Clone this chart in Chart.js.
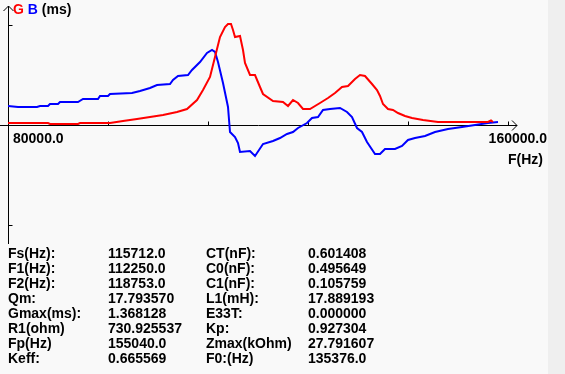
<!DOCTYPE html>
<html>
<head>
<meta charset="utf-8">
<script src="https://cdn.jsdelivr.net/npm/chart.js@4/dist/chart.umd.min.js"></script>
<style>
  html, body { margin: 0; padding: 0; }
  body { width: 565px; height: 374px; background: #f9f9f9; position: relative; overflow: hidden; font-family: "Liberation Sans", Arial, sans-serif; }
  #strip { position: absolute; left: 548px; top: 0; width: 17px; height: 374px; background: #efefef; }
  #chart { position: absolute; left: 0; top: 0; }
  .col { position: absolute; top: 246px; font-weight: bold; font-size: 14px; line-height: 15px; color: #000; white-space: pre; }
</style>
</head>
<body>
<div id="strip"></div>
<canvas id="chart" width="565" height="374"></canvas>
<div class="col" id="c1" style="left:8px"></div>
<div class="col" id="c2" style="left:108px"></div>
<div class="col" id="c3" style="left:206px"></div>
<div class="col" id="c4" style="left:308px"></div>
<script>
// frequency axis (Hz) and tick values
const freqMin = 80000;
const freqMax = 160000;
const freqTicks = [96000, 112000, 128000, 144000, 160000];
const yTicks = [-1, 1];

// G curve (red)
const gFreq = [80000, 86400, 86720, 91200, 91520, 96320, 98400, 100640, 102720, 104800, 107040, 108640,
  110240, 111200, 112320, 113120, 113920, 114720, 115200, 115680, 116000, 116320, 117120, 117600, 117920,
  118720, 119520, 120320, 120800, 122400, 124000, 124800, 125600, 126400, 127200, 128320, 129920, 131200,
  132320, 133440, 134400, 135520, 136320, 137120, 138240, 139040, 139520, 140000, 140800, 141600, 142400,
  143520, 144640, 146400, 148800, 152640, 156800, 157280, 157600];
const gVals = [0.02, 0.02, 0.01, 0.01, 0.02, 0.02, 0.04, 0.06, 0.08, 0.10, 0.13, 0.16,
  0.25, 0.35, 0.48, 0.68, 0.88, 0.98, 1.01, 1.01, 0.95, 0.88, 0.89, 0.75, 0.62,
  0.50, 0.50, 0.38, 0.31, 0.24, 0.23, 0.19, 0.25, 0.22, 0.16, 0.16, 0.22, 0.27,
  0.32, 0.38, 0.39, 0.46, 0.50, 0.49, 0.41, 0.35, 0.29, 0.21, 0.16, 0.15, 0.12,
  0.09, 0.07, 0.05, 0.03, 0.03, 0.03, 0.045, 0.03];

// B curve (blue)
const bFreq = [80000, 81600, 84640, 85120, 86400, 86720, 88000, 88320, 91200, 92000, 94400, 94720,
  96000, 96320, 99840, 101120, 102720, 103840, 105920, 106400, 107200, 108800, 109440, 110720, 111840,
  112640, 113120, 113600, 114400, 115200, 115520, 116320, 116800, 117120, 118720, 119520, 120800, 122400,
  123520, 124640, 125600, 126400, 127840, 128640, 129600, 130400, 131520, 133120, 134240, 135040, 135840,
  136640, 137440, 138720, 139520, 140320, 141920, 143040, 144000, 145120, 146720, 148320, 150400, 152640,
  154720, 156800, 158400];
const bVals = [0.19, 0.18, 0.18, 0.19, 0.19, 0.21, 0.21, 0.23, 0.23, 0.26, 0.26, 0.29,
  0.29, 0.31, 0.32, 0.34, 0.37, 0.40, 0.41, 0.45, 0.49, 0.50, 0.55, 0.63, 0.72,
  0.75, 0.73, 0.63, 0.42, 0.18, -0.07, -0.12, -0.18, -0.27, -0.26, -0.31, -0.19, -0.16,
  -0.13, -0.09, -0.07, -0.03, 0.02, 0.07, 0.08, 0.15, 0.16, 0.17, 0.13, 0.08, -0.03,
  -0.07, -0.17, -0.29, -0.29, -0.24, -0.24, -0.21, -0.15, -0.13, -0.11, -0.07, -0.04, -0.02,
  0.00, 0.02, 0.03];

// measurement results
const leftNames = ['Fs(Hz):', 'F1(Hz):', 'F2(Hz):', 'Qm:', 'Gmax(ms):', 'R1(ohm)', 'Fp(Hz)', 'Keff:'];
const leftValues = ['115712.0', '112250.0', '118753.0', '17.793570', '1.368128', '730.925537', '155040.0', '0.665569'];
const rightNames = ['CT(nF):', 'C0(nF):', 'C1(nF):', 'L1(mH):', 'E33T:', 'Kp:', 'Zmax(kOhm)', 'F0:(Hz)'];
const rightValues = ['0.601408', '0.495649', '0.105759', '17.889193', '0.000000', '0.927304', '27.791607', '135376.0'];

document.getElementById('c1').textContent = leftNames.join('\n');
document.getElementById('c2').textContent = leftValues.join('\n');
document.getElementById('c3').textContent = rightNames.join('\n');
document.getElementById('c4').textContent = rightValues.join('\n');

const FONT = 'bold 14px "Liberation Sans", Arial, sans-serif';

const axesPlugin = {
  id: 'axes',
  beforeDatasetsDraw(chart) {
    const { ctx, scales: { x, y } } = chart;
    const x0 = Math.round(x.getPixelForValue(freqMin)) + 0.5;
    const y0 = Math.round(y.getPixelForValue(0)) + 0.5;
    ctx.save();
    ctx.strokeStyle = '#000';
    ctx.lineWidth = 1;
    ctx.beginPath();
    // horizontal axis with arrow
    ctx.moveTo(0, y0); ctx.lineTo(517, y0);
    ctx.moveTo(512, y0 - 5); ctx.lineTo(517, y0); ctx.lineTo(512, y0 + 5);
    // vertical axis with arrow
    ctx.moveTo(x0, 6); ctx.lineTo(x0, 244);
    ctx.moveTo(x0 - 5, 11); ctx.lineTo(x0, 6); ctx.lineTo(x0 + 5, 11);
    yTicks.forEach((v) => {
      const py = Math.round(y.getPixelForValue(v)) + 0.5;
      ctx.moveTo(x0, py); ctx.lineTo(x0 + 4, py);
    });
    freqTicks.forEach((f) => {
      const px = Math.round(x.getPixelForValue(f)) + 0.5;
      ctx.moveTo(px, y0); ctx.lineTo(px, y0 - 4);
    });
    ctx.stroke();

    ctx.font = FONT;
    ctx.fillStyle = '#000';
    ctx.textBaseline = 'alphabetic';
    ctx.textAlign = 'left';
    ctx.fillText(freqMin.toFixed(1), 13, 143);
    ctx.fillText('F(Hz)', 508, 164);
    ctx.textAlign = 'right';
    ctx.fillText(freqMax.toFixed(1), 547, 143);

    // title: G B (ms)
    ctx.textAlign = 'left';
    let tx = 13;
    [['G ', '#ff0000'], ['B ', '#0000ff'], ['(ms)', '#000']].forEach(([t, c]) => {
      ctx.fillStyle = c;
      ctx.fillText(t, tx, 14);
      tx += ctx.measureText(t).width;
    });
    ctx.restore();
  }
};

new Chart(document.getElementById('chart'), {
  type: 'line',
  data: {
    datasets: [
      { label: 'G', data: gFreq.map((f, i) => ({ x: f, y: gVals[i] })), borderColor: '#ff0000', borderWidth: 2, pointRadius: 0, tension: 0 },
      { label: 'B', data: bFreq.map((f, i) => ({ x: f, y: bVals[i] })), borderColor: '#0000ff', borderWidth: 2, pointRadius: 0, tension: 0 }
    ]
  },
  options: {
    responsive: false,
    animation: false,
    layout: { padding: { left: 8, right: 57, top: 5, bottom: 129 } },
    plugins: { legend: { display: false }, tooltip: { enabled: false } },
    scales: {
      x: { type: 'linear', min: freqMin, max: freqMax, display: false },
      y: { type: 'linear', min: -1.2, max: 1.2, display: false }
    }
  },
  plugins: [axesPlugin]
});
</script>
</body>
</html>
